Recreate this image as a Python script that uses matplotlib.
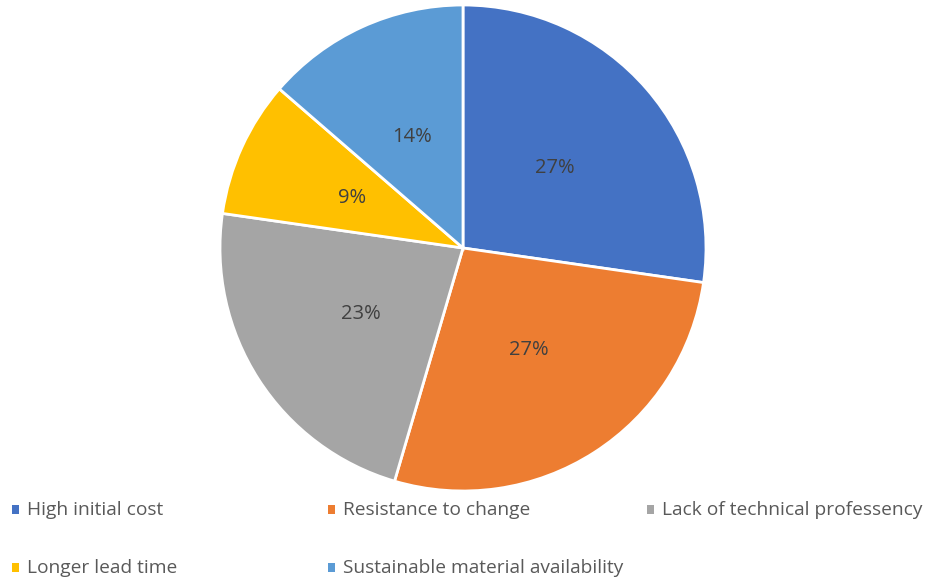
import matplotlib.pyplot as plt
from matplotlib.patches import Rectangle

labels = ["High initial cost", "Resistance to change", "Lack of technical professency",
          "Longer lead time", "Sustainable material availability"]
values = [6, 6, 5, 2, 3]
colors = ["#4472C4", "#ED7D31", "#A5A5A5", "#FFC000", "#5B9BD5"]

plt.rcParams["font.family"] = ["Open Sans", "DejaVu Sans"]

W, H = 926, 580
fig = plt.figure(figsize=(W / 100, H / 100), dpi=100)

# pie centred at (463, 248) px, radius 243 px
cx, cy, r = 463, 248, 243
ax = fig.add_axes([(cx - r) / W, (H - cy - r) / H, 2 * r / W, 2 * r / H])
wedges, texts, autotexts = ax.pie(
    values, colors=colors, startangle=90, counterclock=False,
    autopct="%1.0f%%", pctdistance=0.5,
    wedgeprops=dict(edgecolor="white", linewidth=2),
    textprops=dict(color="#404040", fontsize=14.5),
)
ax.set_xlim(-1, 1)
ax.set_ylim(-1, 1)
ax.set_aspect("equal")

# legend drawn by hand in two rows
col_x = [15, 331, 650]
row_y = [510, 568]
for i, (lab, col) in enumerate(zip(labels, colors)):
    x = col_x[i % 3]
    y = row_y[i // 3]
    fig.patches.append(Rectangle(((x - 3) / W, (H - y - 4) / H), 7 / W, 9 / H,
                                 facecolor=col, edgecolor="none",
                                 transform=fig.transFigure))
    fig.text((x + 12) / W, (H - y) / H, lab, fontsize=13.8, color="#595959",
             va="center", ha="left")

fig.savefig("out.png", dpi=100)
